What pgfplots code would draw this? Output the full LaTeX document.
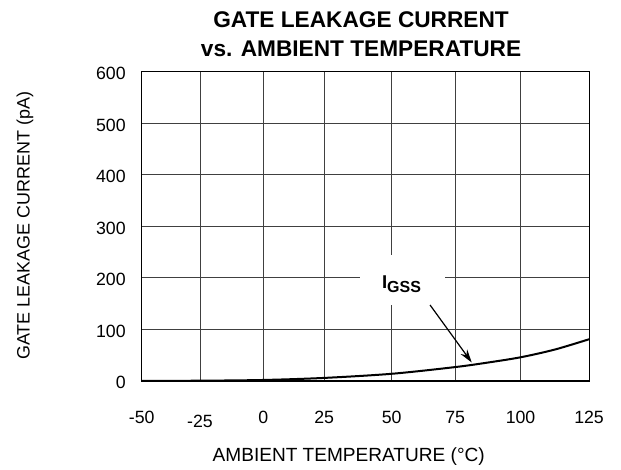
\documentclass[border=0pt]{standalone}
\usepackage{pgfplots}
\pgfplotsset{compat=1.18}
\usetikzlibrary{arrows.meta}
\usepackage{fontspec}
\setmainfont{Liberation Sans}
\begin{document}
\begin{tikzpicture}
\begin{axis}[
  at={(0,0)}, anchor=south west,
  scale only axis, width=335.5pt, height=232pt,
  xmin=-50, xmax=125, ymin=0, ymax=600,
  xtick={-50,-27.2,-2.4,21.4,47.8,72.6,98.2,125},
  xticklabels={-50,{\raisebox{-2.5pt}{-25}},0,25,50,75,100,125},
  ytick={0,100,200,300,400,500,600},
  yticklabels={0,100,200,300,400,500,600},
  major tick length=0pt,
  grid=major,
  major grid style={black!75, line width=0.6pt},
  axis line style={black, line width=0.8pt},
  tick label style={font=\fontsize{13.3}{15}\selectfont},
  xticklabel style={anchor=base, yshift=-32pt},
  yticklabel style={xshift=-8.5pt, yshift=-1.3pt},
  clip=false,
]
\addplot[black, line width=1.5pt, smooth] coordinates {
  (-50,0.2) (-27.2,0.6) (-2.4,2) (21.4,6) (47.8,14) (72.6,27) (85,35.5) (98.2,46) (111.6,61) (125,81)
};
\fill[white] (axis cs:35.4,147.4) rectangle (axis cs:68.65,244);
\node[anchor=base west, inner sep=0pt] at (axis cs:43.9,179.8) {\fontsize{13.9}{15}\selectfont\bfseries I\raisebox{-3pt}{\fontsize{12}{13}\selectfont GSS}};
\draw[-{Stealth[length=10pt,width=6pt]}, line width=0.9pt] (axis cs:62.8,147.4) -- (axis cs:79.1,35.9);
\end{axis}
\node[font=\fontsize{13.45}{15}\selectfont, rotate=90] at (-87.5pt,116.4pt) {GATE LEAKAGE CURRENT (pA)};
\node[font=\fontsize{14.3}{16}\selectfont] at (155.25pt,-56.8pt) {AMBIENT TEMPERATURE (\textdegree C)};
\node[font=\fontsize{17}{19}\selectfont\bfseries] at (164.5pt,271.3pt) {GATE LEAKAGE CURRENT};
\node[font=\fontsize{17}{19}\selectfont\bfseries] at (164.5pt,249pt) {vs. AMBIENT TEMPERATURE};
\pgfresetboundingbox
\path[use as bounding box] (-106.3pt,-66pt) rectangle (359.45pt,285.75pt);
\end{tikzpicture}
\end{document}
